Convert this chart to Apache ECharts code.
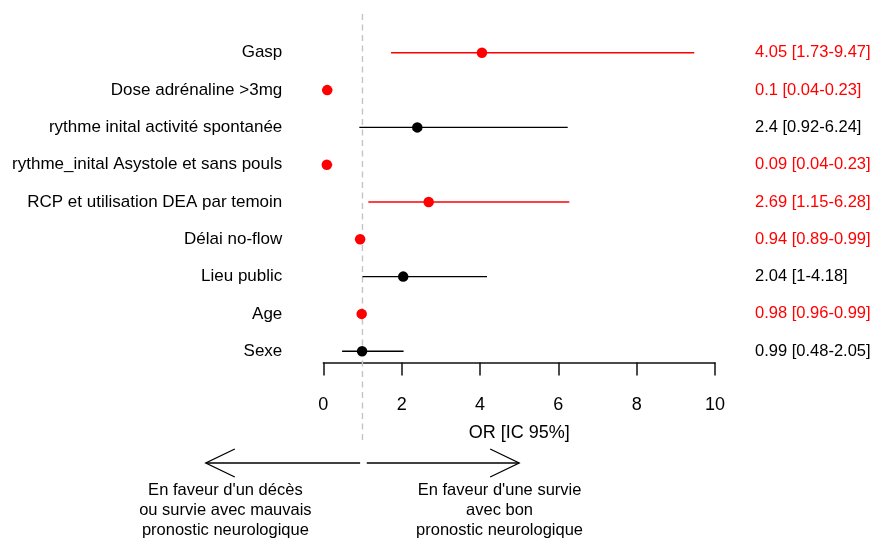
<!DOCTYPE html>
<html>
<head>
<meta charset="utf-8">
<script src="https://cdn.jsdelivr.net/npm/echarts@6/dist/echarts.min.js"></script>
<style>
  html, body { margin: 0; background: #fff; }
  #chart { width: 877px; height: 540px; }
</style>
</head>
<body>
<div id="chart"></div>
<script>
// forest plot: OR [IC 95%] par variable (rangées de haut en bas)
const labels = [
  'Gasp', 'Dose adrénaline >3mg', 'rythme inital activité spontanée',
  'rythme_inital Asystole et sans pouls', 'RCP et utilisation DEA par temoin',
  'Délai no-flow', 'Lieu public', 'Age', 'Sexe'
];
const orVals = [4.05, 0.1, 2.4, 0.09, 2.69, 0.94, 2.04, 0.98, 0.99];
const ciLow  = [1.73, 0.04, 0.92, 0.04, 1.15, 0.89, 1, 0.96, 0.48];
const ciHigh = [9.47, 0.23, 6.24, 0.23, 6.28, 0.99, 4.18, 0.99, 2.05];
const signif = [true, true, false, true, true, true, false, true, false];
const leftNote  = ["En faveur d'un décès", 'ou survie avec mauvais', 'pronostic neurologique'];
const rightNote = ["En faveur d'une survie", 'avec bon', 'pronostic neurologique'];

const RED = '#ff0000', BLACK = '#000000';
const FONT = '"Liberation Sans", Arial, sans-serif';
const colorOf = i => signif[i] ? RED : BLACK;
const rowIdx = v => { const n = Number(v); return Number.isInteger(n) && n >= 1 && n <= labels.length ? n - 1 : -1; };
const ciText = labels.map((_, i) => `${orVals[i]} [${ciLow[i]}-${ciHigh[i]}]`);

const chart = echarts.init(document.getElementById('chart'), null, { renderer: 'canvas' });

const yBase = {
  type: 'value', inverse: true, min: 0, max: 9.3, interval: 1,
  axisLine: { show: false }, axisTick: { show: false }, splitLine: { show: false },
};

chart.setOption({
  animation: false,
  textStyle: { fontFamily: FONT },
  grid: { left: 323.3, right: 162, top: 15.5, bottom: 177.6 },
  xAxis: {
    type: 'value', min: 0, max: 10, interval: 2,
    name: 'OR [IC 95%]', nameLocation: 'middle', nameGap: 62,
    nameTextStyle: { fontSize: 18, color: '#000', fontFamily: FONT },
    axisLine: { show: true, onZero: false, lineStyle: { color: '#111', width: 1.5 } },
    axisTick: { show: true, length: 13, lineStyle: { color: '#111', width: 1.5 } },
    axisLabel: { fontSize: 18, color: '#000', margin: 34, fontFamily: FONT },
    splitLine: { show: false },
  },
  yAxis: [
    Object.assign({}, yBase, {
      position: 'left',
      axisLabel: {
        margin: 41, fontSize: 17, color: '#000', fontFamily: FONT, showMaxLabel: false,
        formatter: v => { const i = rowIdx(v); return i < 0 ? '' : labels[i]; },
      },
    }),
    Object.assign({}, yBase, {
      position: 'right',
      axisLabel: {
        margin: 40, fontSize: 16.5, fontFamily: FONT, showMaxLabel: false,
        formatter: v => { const i = rowIdx(v); return i < 0 ? '' : ciText[i]; },
        color: v => { const i = rowIdx(v); return i < 0 ? BLACK : colorOf(i); },
      },
    }),
  ],
  series: [
    {
      type: 'custom', clip: false,
      data: labels.map((_, i) => [ciLow[i], ciHigh[i], i + 1]),
      renderItem: (params, api) => {
        const a = api.coord([api.value(0), api.value(2)]);
        const b = api.coord([api.value(1), api.value(2)]);
        return {
          type: 'line',
          shape: { x1: a[0], y1: a[1], x2: b[0], y2: b[1] },
          style: { stroke: colorOf(params.dataIndex), lineWidth: 1.4 },
        };
      },
      z: 2,
    },
    {
      type: 'scatter', symbol: 'circle', symbolSize: 10.5,
      data: labels.map((_, i) => ({ value: [orVals[i], i + 1], itemStyle: { color: colorOf(i), opacity: 1 } })),
      z: 3,
    },
  ],
});

// ligne de référence OR = 1, flèches et légendes sous l'axe
const px = x => chart.convertToPixel({ xAxisIndex: 0 }, x);
const x1 = px(1);
const arrowY = 463, head = 29, spread = 14;
const lStart = px(0.94), lEnd = px(-3), rStart = px(1.11), rEnd = px(5);
const arrowStyle = { stroke: '#000', lineWidth: 1.3, fill: null };
const noteStyle = (cx, lines) => ({
  type: 'text', x: cx, y: 480,
  style: { text: lines.join('\n'), align: 'center', verticalAlign: 'top',
           fontSize: 16.5, lineHeight: 20, fill: '#000', fontFamily: FONT },
});

chart.setOption({
  graphic: [
    { type: 'line', z: 1, shape: { x1, y1: 14, x2: x1, y2: 443 },
      style: { stroke: '#c4c4c4', lineWidth: 1.4, lineDash: [6, 4.5] } },
    { type: 'line', shape: { x1: lStart, y1: arrowY, x2: lEnd, y2: arrowY }, style: arrowStyle },
    { type: 'polyline', shape: { points: [[lEnd + head, arrowY - spread], [lEnd, arrowY], [lEnd + head, arrowY + spread]] }, style: arrowStyle },
    { type: 'line', shape: { x1: rStart, y1: arrowY, x2: rEnd, y2: arrowY }, style: arrowStyle },
    { type: 'polyline', shape: { points: [[rEnd - head, arrowY - spread], [rEnd, arrowY], [rEnd - head, arrowY + spread]] }, style: arrowStyle },
    noteStyle(px(-2.5), leftNote),
    noteStyle(px(4.5), rightNote),
  ],
});
</script>
</body>
</html>
